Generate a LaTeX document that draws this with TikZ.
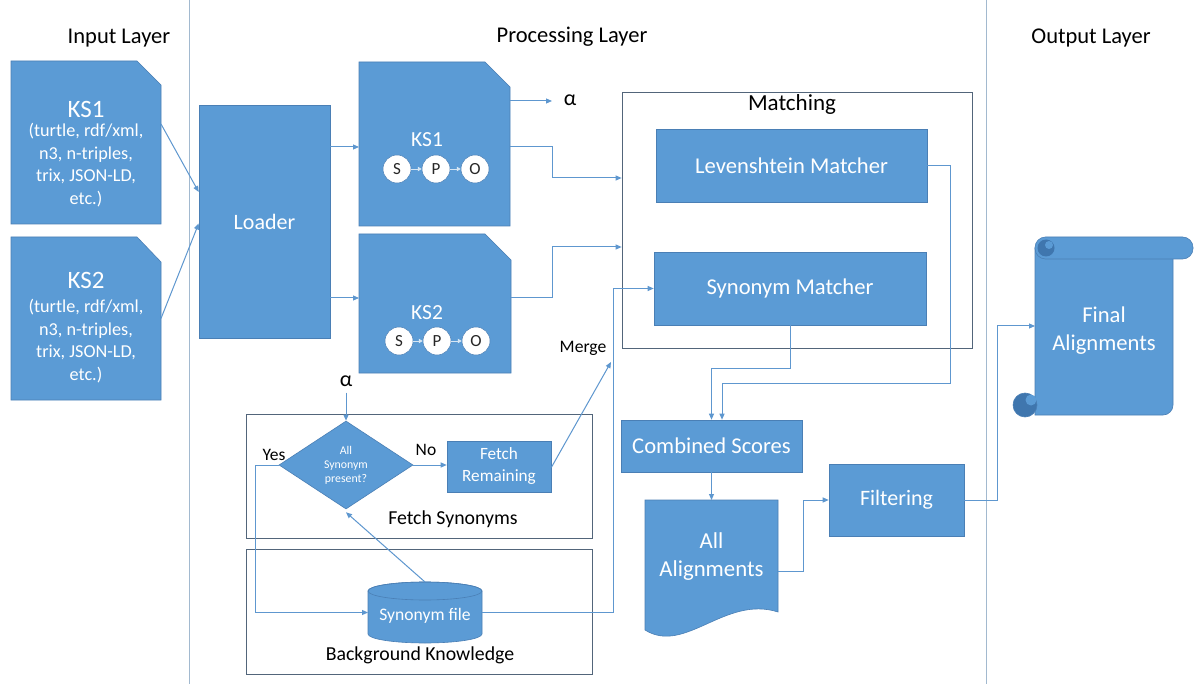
\documentclass[tikz,border=0pt]{standalone}
\usepackage{fontspec}
\setmainfont{Carlito}
\usetikzlibrary{arrows.meta,shapes.geometric,calc}
\definecolor{boxblue}{HTML}{5B9BD5}
\definecolor{boxedge}{HTML}{4A7FB5}
\definecolor{linecol}{HTML}{5E97CF}
\definecolor{layerline}{HTML}{A2B9CF}
\definecolor{framecol}{HTML}{52657A}
\definecolor{curlcol}{HTML}{3F76AE}
\newcommand{\fsz}[1]{\fontsize{#1}{#1}\selectfont}
\newcommand{\fsl}[2]{\fontsize{#1}{#2}\selectfont}
\begin{document}
\begin{tikzpicture}[x=1pt,y=-1pt,
  bluebox/.style={fill=boxblue,draw=boxedge,line width=0.6pt},
  bluenode/.style={bluebox,inner sep=0,text=white,align=center},
  ghost/.style={inner sep=0,outer sep=0},
  conn/.style={draw=linecol,line width=1pt,-{Triangle[length=6pt,width=5pt]}},
  wtext/.style={text=white,align=center,inner sep=0},
  btext/.style={text=black,align=center,inner sep=0},
  frame/.style={draw=framecol,line width=0.7pt,inner sep=0},
  circ/.style={circle,fill=white,draw=boxedge,line width=0.5pt,minimum size=28pt,inner sep=0,font=\fsz{17},text=black!85},
  mini/.style={draw=white!75!boxblue,line width=0.9pt,-{Triangle[length=4pt,width=4.5pt]}},
]
\useasboundingbox (0,0) rectangle (1196,684);
\fill[white] (0,0) rectangle (1196,684);

% layer separators
\draw[layerline,line width=1pt] (189,0) -- (189,684);
\draw[layerline,line width=1pt] (986,0) -- (986,684);

% headers
\node[btext,font=\fsz{22.5}] (hin) at (119,38) {Input Layer};
\node[btext,font=\fsz{22.5}] (hproc) at (572,37) {Processing Layer};
\node[btext,font=\fsz{22.5}] (hout) at (1091,38) {Output Layer};

% input documents
\path[bluebox] (11,61) -- (137,61) -- (161,85) -- (161,224) -- (11,224) -- cycle;
\node[ghost,minimum width=150pt,minimum height=163pt] (in1) at (86,142.5) {};
\node[wtext,font=\fsz{25}] (in1k) at (86,109) {KS1};
\node[wtext,font=\fsl{18.2}{22.5}] (in1t) at (86,165) {(turtle, rdf/xml,\\n3, n-triples,\\trix, JSON-LD,\\etc.)};
\path[bluebox] (11,237) -- (137,237) -- (161,262) -- (161,400) -- (11,400) -- cycle;
\node[ghost,minimum width=150pt,minimum height=163pt] (in2) at (86,318.5) {};
\node[wtext,font=\fsz{25}] (in2k) at (86,280) {KS2};
\node[wtext,font=\fsl{18.2}{22.5}] (in2t) at (86,341) {(turtle, rdf/xml,\\n3, n-triples,\\trix, JSON-LD,\\etc.)};

% loader
\node[bluenode,minimum width=131pt,minimum height=233pt,font=\fsz{22}] (loader) at (264.5,221.5) {Loader};

% processing KS docs
\path[bluebox] (359,62) -- (485,62) -- (510,87) -- (510,226) -- (359,226) -- cycle;
\node[ghost,minimum width=151pt,minimum height=164pt] (ks1p) at (434.5,144) {};
\node[wtext,font=\fsz{21.5}] (ks1t) at (427,140) {KS1};
\node[circ] (s1) at (397,169) {S};
\node[circ] (p1) at (436,169) {P};
\node[circ] (o1) at (475,169) {O};
\draw[mini] (s1) -- (p1);
\draw[mini] (p1) -- (o1);

\path[bluebox] (359,234) -- (485,234) -- (511,260) -- (511,373) -- (359,373) -- cycle;
\node[ghost,minimum width=152pt,minimum height=139pt] (ks2p) at (435,303.5) {};
\node[wtext,font=\fsz{21.5}] (ks2t) at (427,313) {KS2};
\node[circ] (s2) at (399,341) {S};
\node[circ] (p2) at (437,341) {P};
\node[circ] (o2) at (476,341) {O};
\draw[mini] (s2) -- (p2);
\draw[mini] (p2) -- (o2);

\node[btext,font=\fsz{22}] (alpha1) at (570,100) {α};
\node[btext,font=\fsz{22}] (alpha2) at (346,381) {α};

% matching
\node[frame,minimum width=350pt,minimum height=256pt] (matching) at (797,220) {};
\node[btext,font=\fsz{23}] (matcht) at (792,104) {Matching};
\node[bluenode,minimum width=271pt,minimum height=73pt,font=\fsz{22.6}] (lev) at (791.5,165.5) {Levenshtein Matcher};
\node[bluenode,minimum width=272pt,minimum height=73pt,font=\fsz{22.6}] (syn) at (790,288.5) {Synonym Matcher};

% combined, all alignments, filtering
\node[bluenode,minimum width=181pt,minimum height=52pt,font=\fsz{22.6}] (comb) at (711.5,446) {Combined Scores};
\path[bluebox] (645,500) -- (778,500) -- (778,612) .. controls (725,595) and (685,655) .. (645,630) -- cycle;
\node[ghost,minimum width=133pt,minimum height=113pt] (allal) at (711.5,556.5) {};
\node[wtext,font=\fsl{22.8}{28}] (allalt) at (711.5,557) {All\\Alignments};
\node[bluenode,minimum width=135pt,minimum height=72pt,font=\fsz{22}] (filt) at (896.5,500) {Filtering};

% final alignments scroll
\path[bluebox] (1035,248) -- (1035,415) -- (1163,415) arc[start angle=90,end angle=0,radius=10] -- (1173,248) -- cycle;
\path[bluebox,rounded corners=10.5pt] (1035,237) rectangle (1193,259);
\path[fill=curlcol] (1046,248) circle[radius=8.5];
\path[fill=boxblue] (1049,245) circle[radius=4];
\path[fill=curlcol,draw=boxedge,line width=0.6pt] (1025,405) circle[radius=12];
\path[fill=boxblue] (1031,400) circle[radius=5.5];
\node[ghost,minimum width=138pt,minimum height=178pt] (final) at (1104,326) {};
\node[wtext,font=\fsl{22.6}{28}] (finalt) at (1104,331) {Final\\Alignments};

% fetch synonyms / background frames
\node[frame,minimum width=346pt,minimum height=124pt] (fsyn) at (419,476) {};
\node[btext,font=\fsz{19.8}] (fsynt) at (453,519) {Fetch Synonyms};
\node[frame,minimum width=346pt,minimum height=125pt] (bgk) at (419,611.5) {};
\node[btext,font=\fsz{19.8}] (bgkt) at (420,655) {Background Knowledge};

\node[diamond,bluebox,minimum width=134pt,minimum height=88pt,inner sep=0,text=white,align=center,font=\fsl{11.8}{14}] (dia) at (346,465) {All\\Synonym\\present?};
\node[btext,font=\fsz{17.5}] (yes) at (274,455) {Yes};
\node[btext,font=\fsz{17.5}] (no) at (426,450) {No};
\node[bluenode,minimum width=104pt,minimum height=51pt,font=\fsl{17.2}{22}] (fetch) at (499,466.5) {Fetch\\Remaining};

% cylinder
\path[bluebox] (368,591) -- (368,634) arc[start angle=180,end angle=0,x radius=57,y radius=9] -- (482,591) arc[start angle=0,end angle=-180,x radius=57,y radius=9] -- cycle;
\draw[boxedge,line width=0.6pt] (425,591) ellipse[x radius=57,y radius=9];
\node[ghost,minimum width=114pt,minimum height=61pt] (cyl) at (425,612.5) {};
\node[wtext,font=\fsz{17.6}] (cylt) at (425,616) {Synonym file};

\node[btext,font=\fsz{17.6}] (merge) at (583,348) {Merge};
\coordinate (mergein) at (611,362);

% connectors
\draw[conn] ([yshift=18.5pt]in1.east) -- ([yshift=29.5pt]loader.west);
\draw[conn] (in2.east) -- ([yshift=-2pt]loader.west);
\draw[conn] ([yshift=74.5pt]loader.east) -- ([yshift=74.5pt]loader.east -| ks1p.west);
\draw[conn] ([yshift=-76.5pt]loader.east) -- ([yshift=-76.5pt]loader.east -| ks2p.west);
\draw[conn] ([yshift=43pt]ks1p.east) -- ++(42,0);
\draw[conn] ([yshift=-3pt]ks1p.east) -- ++(42,0) |- ([yshift=42pt]matching.west);
\draw[conn] ([yshift=5.5pt]ks2p.east) -- ++(41,0) |- ([yshift=-27pt]matching.west);
\draw[conn] (lev.east) -- ++(23,0) -- ++(0,217.5) -| ([xshift=10.5pt]comb.north);
\draw[conn] (syn.south) -- ++(0,43) -| (comb.north);
\draw[conn] (comb.south) -- (allal.north);
\draw[conn] ([yshift=-14.5pt]allal.east) -- ++(25,0) |- (filt.west);
\draw[conn] (filt.east) -- ++(33,0) |- (final.west);
\draw[conn] (alpha2.south) ++(0,6) -- (dia.north);
\draw[conn] (dia.east) -- (dia.east -| fetch.west);
\draw[conn] ([yshift=-1pt]fetch.east) -- (mergein);
\draw[conn] (dia.west) -- ++(-23,0) |- (cyl.west);
\draw[conn] (cyl.north) -- ([yshift=-3pt]dia.south);
\draw[conn] (cyl.east) -- ++(131,0) |- (syn.west);
\end{tikzpicture}
\end{document}
